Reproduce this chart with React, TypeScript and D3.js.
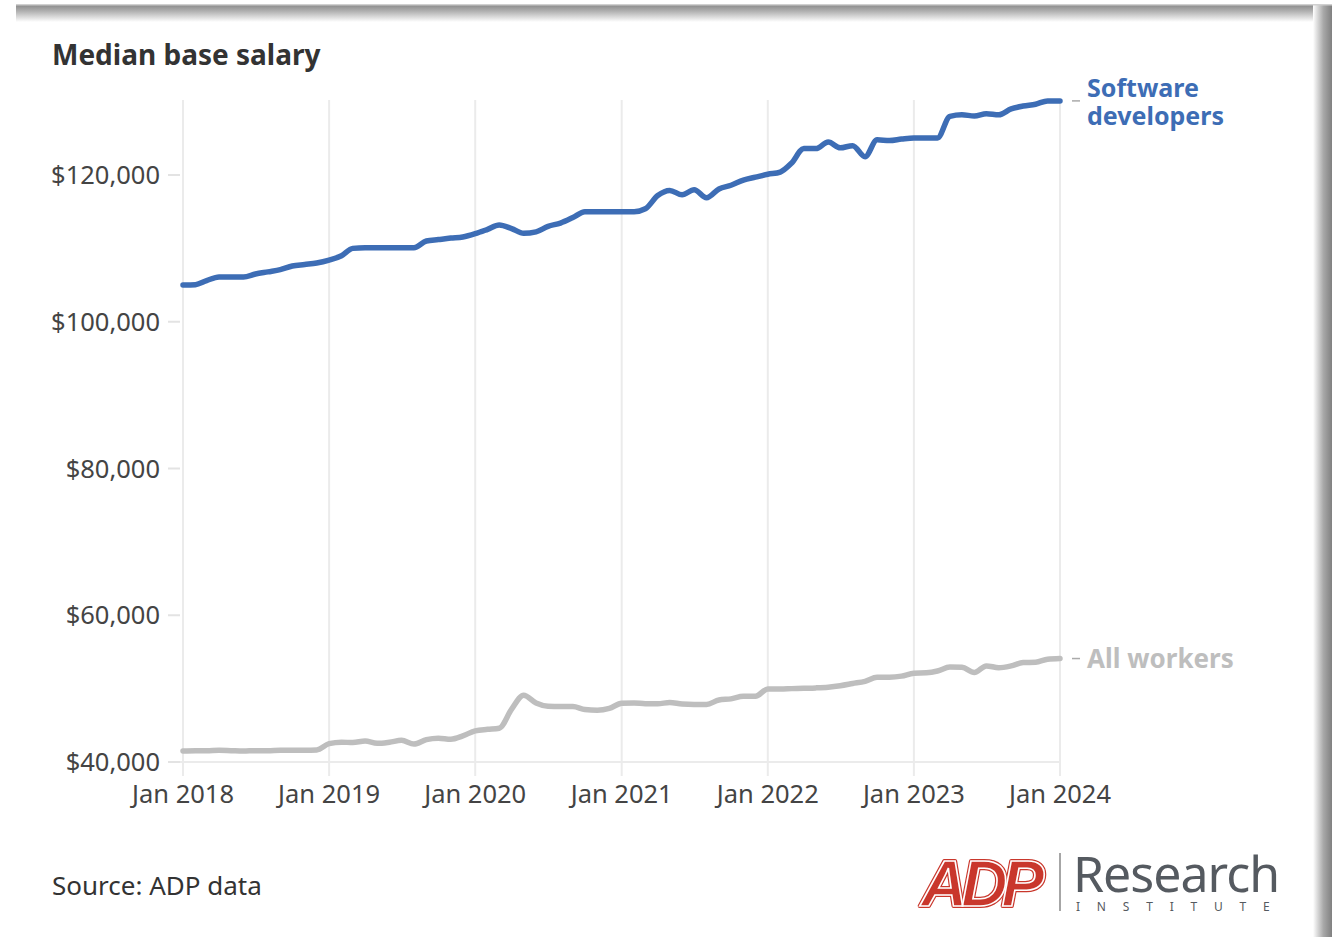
import React from "react";
import * as d3 from "d3";

const months: string[] = d3.range(0, 73).map((i) => d3.timeFormat("%Y-%m")(new Date(2018, i, 1)));

const softwareDevelopers: number[] = [
  105000, 105050, 105600, 106100, 106100, 106100, 106500, 106800, 107100, 107600, 107800, 108000,
  108400, 109000, 110000, 110100, 110100, 110100, 110100, 110100, 111000, 111200, 111400, 111550,
  112000, 112600, 113200, 112700, 112050, 112250, 113000, 113450, 114200, 115000, 115000, 115000,
  115000, 115000, 115400, 117200, 117900, 117300, 118000, 116900, 118100, 118600, 119300, 119700,
  120100, 120400, 121600, 123600, 123600, 124500, 123700, 124000, 122500, 124800, 124700, 124900,
  125050, 125050, 125050, 128000, 128200, 128050, 128350, 128200, 129000, 129400, 129650, 130100,
  130100,
];

const allWorkers: number[] = [
  41500, 41550, 41550, 41600, 41550, 41500, 41550, 41550, 41600, 41600, 41600, 41650,
  42500, 42700, 42650, 42850, 42550, 42700, 42950, 42450, 43050, 43250, 43100, 43550,
  44250, 44450, 44600, 47200, 49100, 48050, 47600, 47550, 47550, 47150, 47050, 47300,
  48000, 48050, 47950, 47950, 48100, 47900, 47850, 47850, 48450, 48600, 48950, 48950,
  49950, 49950, 50000, 50050, 50100, 50200, 50400, 50700, 51000, 51550, 51550, 51700,
  52100, 52150, 52400, 52950, 52900, 52200, 53100, 52850, 53100, 53550, 53600, 54000,
  54100,
];

const yTicks: number[] = [40000, 60000, 80000, 100000, 120000];
const xTickYears: number[] = [2018, 2019, 2020, 2021, 2022, 2023, 2024];
const seriesNames: string[] = ["Software developers", "All workers"];

const W = 1337;
const H = 937;
const FONT = "'Source Sans Pro', 'Noto Sans', Lato, sans-serif";

export default function App() {
  const parse = d3.timeParse("%Y-%m");
  const dates = months.map((m) => parse(m) as Date);
  const x = d3.scaleTime().domain([new Date(2018, 0, 1), new Date(2024, 0, 1)]).range([183, 1060]);
  const y = d3.scaleLinear().domain([40000, 120000]).range([762, 175]);
  const line = d3
    .line<number>()
    .x((_, i) => x(dates[i]))
    .y((d) => y(d))
    .curve(d3.curveMonotoneX);
  const fmt = (v: number) => "$" + d3.format(",")(v);

  const blue = "#3d6db5";
  const grey = "#bebebe";
  const red = "#c9372c";
  const lastSD = softwareDevelopers[softwareDevelopers.length - 1];
  const lastAW = allWorkers[allWorkers.length - 1];

  return (
    <svg width={W} height={H} style={{ position: "absolute", left: 0, top: 0, background: "#fff" }}>
      <defs>
        <linearGradient id="topShadow" x1="0" y1="0" x2="0" y2="1">
          <stop offset="0" stopColor="#8a8a8a" />
          <stop offset="0.4" stopColor="#b5b5b5" />
          <stop offset="1" stopColor="#ffffff" />
        </linearGradient>
        <linearGradient id="rightShadow" x1="0" y1="0" x2="1" y2="0">
          <stop offset="0" stopColor="#ffffff" />
          <stop offset="0.55" stopColor="#a8a8a8" />
          <stop offset="1" stopColor="#808080" />
        </linearGradient>
      </defs>
      <rect x={0} y={0} width={W} height={H} fill="#fff" />
      <rect x={16} y={5} width={1316} height={17} fill="url(#topShadow)" />
      <rect x={1313} y={5} width={19} height={H - 5} fill="url(#rightShadow)" />
      <rect x={16} y={4} width={1316} height={1.5} fill="#d0d0d0" />

      <text x={52} y={65} fontFamily={FONT} fontWeight={700} fontSize={28} fill="#333">
        Median base salary
      </text>

      {/* vertical gridlines */}
      {xTickYears.map((yr) => {
        const xx = x(new Date(yr, 0, 1));
        return (
          <g key={yr}>
            <line x1={xx} x2={xx} y1={100} y2={776} stroke="#ebebeb" strokeWidth={2} />
            <text
              x={xx}
              y={803}
              textAnchor="middle"
              fontFamily={FONT}
              fontSize={25.5}
              fill="#444"
            >
              {"Jan " + yr}
            </text>
          </g>
        );
      })}
      {/* baseline */}
      <line x1={170} x2={1060} y1={y(40000)} y2={y(40000)} stroke="#ebebeb" strokeWidth={2} />

      {yTicks.map((t) => (
        <g key={t}>
          <line x1={168} x2={180} y1={y(t)} y2={y(t)} stroke="#e3e3e3" strokeWidth={2} />
          <text
            x={160}
            y={y(t) + 9}
            textAnchor="end"
            fontFamily={FONT}
            fontSize={25.5}
            fill="#444"
          >
            {fmt(t)}
          </text>
        </g>
      ))}

      <path d={line(allWorkers) || ""} fill="none" stroke={grey} strokeWidth={5.5} strokeLinejoin="round" strokeLinecap="round" />
      <path d={line(softwareDevelopers) || ""} fill="none" stroke={blue} strokeWidth={5.5} strokeLinejoin="round" strokeLinecap="round" />

      {/* labels */}
      <line x1={1072} x2={1080} y1={y(lastSD)} y2={y(lastSD)} stroke="#aaa" strokeWidth={1.5} />
      <text fontFamily={FONT} fontWeight={700} fontSize={25} fill={blue}>
        <tspan x={1087} y={97}>Software</tspan>
        <tspan x={1087} y={125}>developers</tspan>
      </text>
      <line x1={1072} x2={1080} y1={y(lastAW)} y2={y(lastAW)} stroke="#aaa" strokeWidth={1.5} />
      <text x={1087} y={y(lastAW) + 9} fontFamily={FONT} fontWeight={700} fontSize={26} fill={grey}>
        {seriesNames[1]}
      </text>

      <text x={52} y={895} fontFamily={FONT} fontSize={26} fill="#333">
        Source: ADP data
      </text>

      {/* logo */}
      <g>
        <text
          x={921}
          y={906}
          fontFamily="'Liberation Sans', Arial, sans-serif"
          fontWeight={700}
          fontStyle="italic"
          fontSize={64}
          fill={red}
          stroke={red}
          strokeWidth={4}
          strokeLinejoin="round"
          letterSpacing={-6}
        >
          ADP
        </text>
        <text
          x={921}
          y={906}
          fontFamily="'Liberation Sans', Arial, sans-serif"
          fontWeight={700}
          fontStyle="italic"
          fontSize={64}
          fill="none"
          stroke="#fff"
          strokeWidth={1.6}
          letterSpacing={-6}
        >
          ADP
        </text>
        <line x1={1060} x2={1060} y1={853} y2={911} stroke="#888" strokeWidth={1.5} />
        <text x={1073} y={892} fontFamily={FONT} fontSize={50} fill="#555a60" letterSpacing={-1}>
          Research
        </text>
        <text x={1076} y={911} fontFamily={FONT} fontSize={12} fill="#555a60" letterSpacing={16.8}>
          INSTITUTE
        </text>
      </g>
    </svg>
  );
}
